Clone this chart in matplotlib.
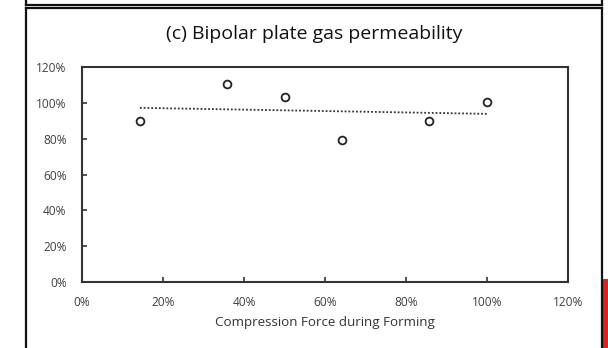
import numpy as np
import matplotlib
matplotlib.use("Agg")
import matplotlib.pyplot as plt
from matplotlib.ticker import PercentFormatter, MultipleLocator
from matplotlib.lines import Line2D
from matplotlib.patches import Rectangle

# Data (percent)
compression_force = [14.3, 35.7, 50.0, 64.3, 85.7, 100.0]
gas_permeability = [89.6, 110.4, 103.5, 79.4, 89.6, 100.4]

title = "(c) Bipolar plate gas permeability"
xlabel = "Compression Force during Forming"

plt.rcParams['font.family'] = ['Open Sans', 'DejaVu Sans']

W, H = 608, 348
fig = plt.figure(figsize=(W / 100, H / 100), dpi=100)
fig.patch.set_facecolor("white")

def fx(px):
    return px / W

def fy(py):
    return 1 - py / H

# Outer frames (panel borders)
frame_kw = dict(transform=fig.transFigure, color="#111111", linewidth=1.6)
# previous panel bottom edge
fig.add_artist(Line2D([fx(26.5), fx(602)], [fy(5), fy(5)], **frame_kw))
fig.add_artist(Line2D([fx(26.5), fx(26.5)], [fy(0), fy(5)], **frame_kw))
fig.add_artist(Line2D([fx(602), fx(602)], [fy(0), fy(5)], **frame_kw))
# this panel frame
fig.add_artist(Line2D([fx(26.5), fx(602)], [fy(8), fy(8)], **frame_kw))
fig.add_artist(Line2D([fx(26.5), fx(26.5)], [fy(8), fy(348)], **frame_kw))
fig.add_artist(Line2D([fx(602), fx(602)], [fy(8), fy(348)], **frame_kw))
# red bar at right edge
fig.add_artist(Rectangle((fx(603), fy(348)), fx(608) - fx(603), fy(279) - fy(348),
                         transform=fig.transFigure, color="#d9261c", linewidth=0))

ax = fig.add_axes([fx(82), fy(282), fx(568) - fx(82), fy(67) - fy(282)])

ax.plot(compression_force, gas_permeability, linestyle="none", marker="o",
        markersize=5.6, markerfacecolor="white", markeredgecolor="#222222",
        markeredgewidth=1.3, zorder=3)

# linear trendline
coef = np.polyfit(compression_force, gas_permeability, 1)
xt = np.array([min(compression_force), max(compression_force)])
ax.plot(xt, np.polyval(coef, xt), linestyle=(0, (1, 1.1)), color="#333333",
        linewidth=1.3, zorder=2)

ax.set_xlim(0, 120)
ax.set_ylim(0, 120)
ax.xaxis.set_major_locator(MultipleLocator(20))
ax.yaxis.set_major_locator(MultipleLocator(20))
ax.xaxis.set_major_formatter(PercentFormatter(100, decimals=0))
ax.yaxis.set_major_formatter(PercentFormatter(100, decimals=0))

for s in ax.spines.values():
    s.set_color("#333333")
    s.set_linewidth(1.5)

ax.tick_params(axis="both", direction="in", length=3.5, width=1.2,
               color="#333333", labelsize=8.6, labelcolor="#404040")
ax.tick_params(axis="x", pad=10)
ax.tick_params(axis="y", pad=11)

ax.set_xlabel(xlabel, fontsize=9.6, color="#333333", labelpad=5)
fig.text(fx(314), fy(34), title, ha="center", va="center", fontsize=14,
         color="#111111")

fig.savefig("out.png", dpi=100, facecolor="white")
